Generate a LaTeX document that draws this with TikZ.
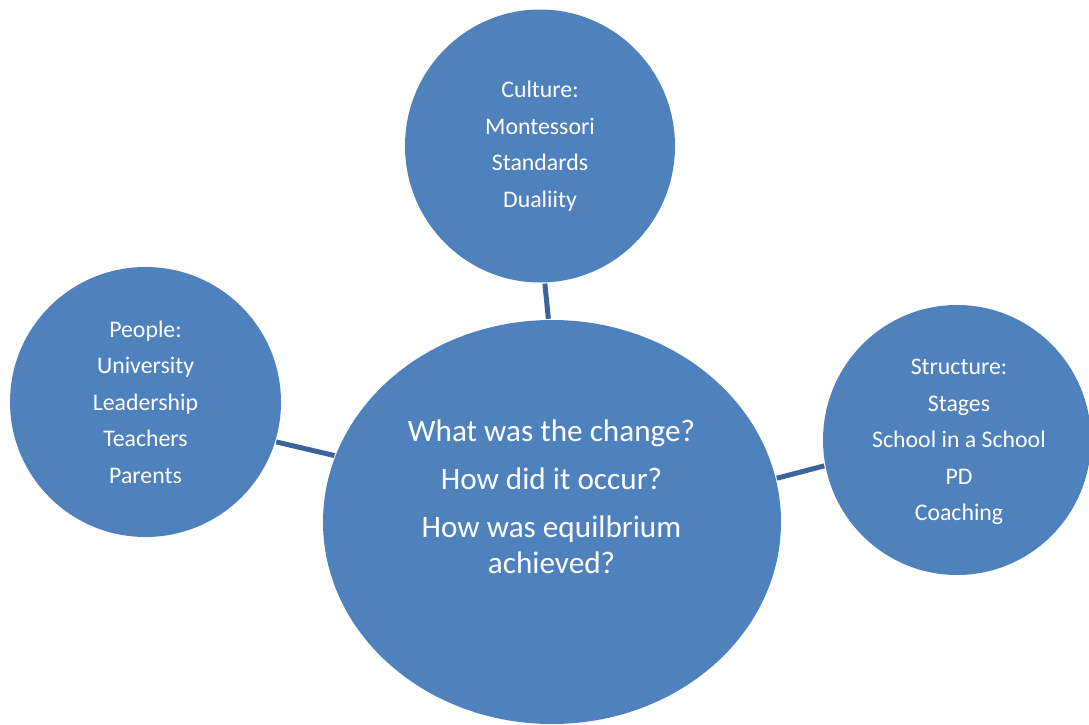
\documentclass[tikz,border=0pt]{standalone}
\usepackage{fontspec}
\setmainfont{Carlito}
\usetikzlibrary{shapes.geometric}
\definecolor{bubble}{HTML}{4F81BD}
\definecolor{link}{HTML}{3B659A}
\tikzset{
  bubble/.style={ellipse, fill=bubble, draw=none, inner sep=0pt, text=white,
    align=center, font=\fontsize{23.8}{36.5}\selectfont},
  centertext/.style={text=white, align=center, font=\fontsize{31.2}{36}\selectfont},
  linkline/.style={draw=link, line width=5pt, shorten <=1pt, shorten >=1pt}
}
\begin{document}
\begin{tikzpicture}[x=1pt,y=-1pt]
\useasboundingbox (0,0) rectangle (1089,725);
\begin{scope}
\clip (0,0) rectangle (1089,725);
\node[bubble, minimum width=458pt, minimum height=404pt] (center) at (552,522) {};
\node[bubble, minimum width=270pt, minimum height=273pt] (culture) at (540,146)
  {Culture:\\Montessori\\Standards\\Dualiity};
\node[bubble, minimum width=271pt, minimum height=270pt] (people) at (145.5,402)
  {People:\\University\\Leadership\\Teachers\\Parents};
\node[bubble, minimum width=268pt, minimum height=270pt] (structure) at (957,440) {};
\end{scope}
\node[text=white, align=center, font=\fontsize{23.8}{36.5}\selectfont] (structuretext) at (959,442)
  {Structure:\\Stages\\School in a School\\PD\\Coaching};
\node[centertext] (question) at (551.5,497)
  {What was the change?\\[12pt]How did it occur?\\[12pt]How was equilbrium\\achieved?};
\draw[linkline] (culture.-88.4) -- (center.91.7);
\draw[linkline] (people.-17) -- (center.163.7);
\draw[linkline] (structure.191.7) -- (center.11.3);
\end{tikzpicture}
\end{document}
